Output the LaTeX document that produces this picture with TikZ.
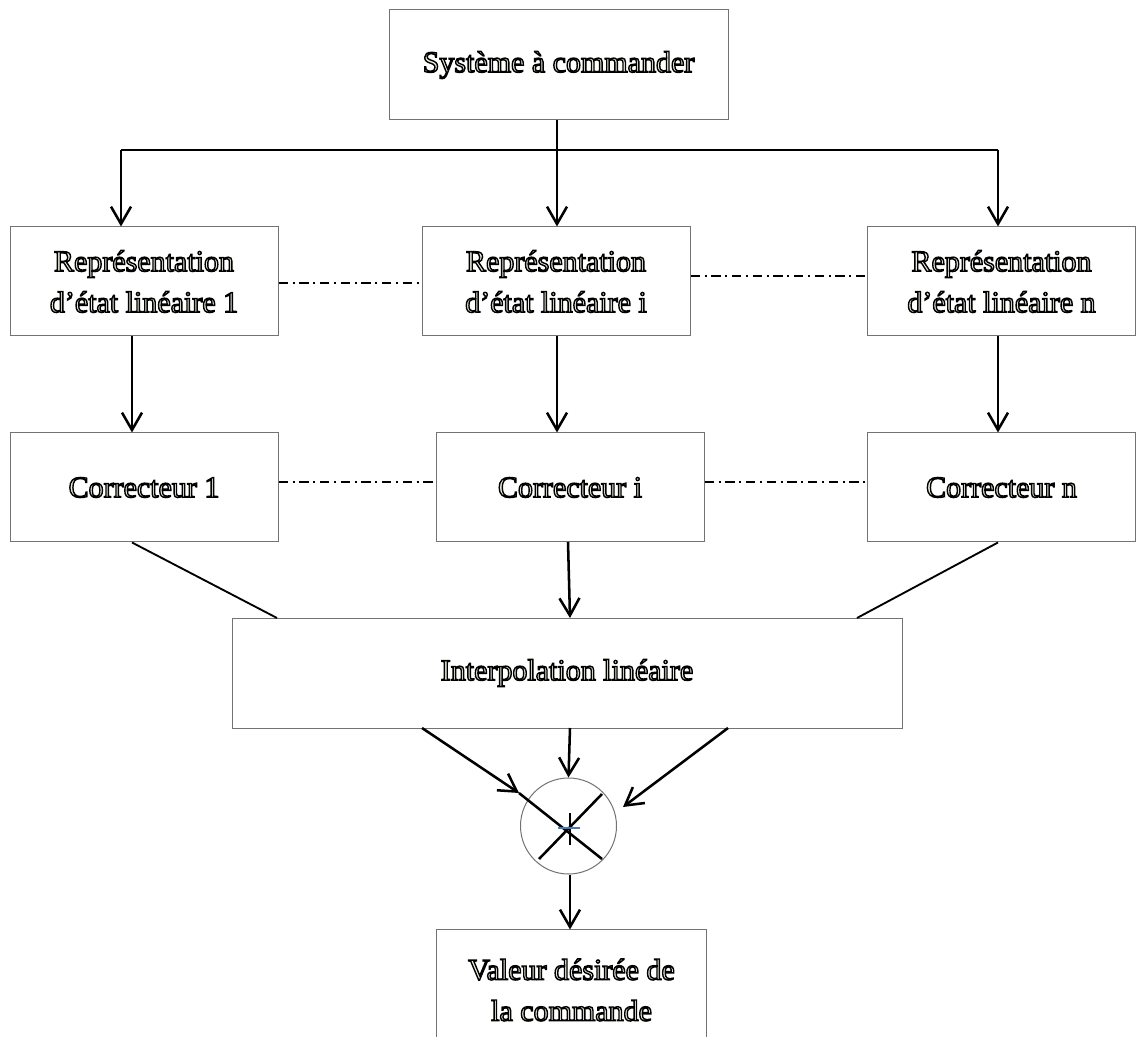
\documentclass[tikz,border=0pt]{standalone}
\usepackage{fontspec}
\setmainfont{Liberation Serif}
\usetikzlibrary{arrows.meta}
% hollow lettering: cream fill with a black outline
\newcommand\hollowtext{\special{pdf:literal direct 0.94 0.93 0.86 rg 0 0 0 RG 1.05 w 2 Tr}}
\newcommand\pxu{0.75pt}
\begin{document}
\begin{tikzpicture}[x=0.75pt,y=-0.75pt,
  box/.style={draw=black!55, line width=0.75pt, inner sep=0pt, align=center,
    font=\fontsize{22.5}{30.75}\selectfont\hollowtext},
  smallbox/.style={box, minimum width=268*\pxu, minimum height=109*\pxu},
  link/.style={line width=1.9pt},
  thin/.style={line width=1.4pt},
  arr/.style={link, -{Straight Barb[length=13pt,width=15pt]}},
  dd/.style={line width=1.05pt, dash pattern=on 7pt off 3.5pt on 1.5pt off 3.5pt},
  ]
\useasboundingbox (0,0) rectangle (1136,1037);

% blocks
\node[box, minimum width=339*\pxu, minimum height=110*\pxu] (sys) at (558.5,65) {Système à commander};

\node[smallbox] (r1) at (144,281.5) {Représentation\\d’état linéaire 1};
\node[smallbox] (ri) at (556,281.5) {Représentation\\d’état linéaire i};
\node[smallbox] (rn) at (1001.5,281.5) {Représentation\\d’état linéaire n};

\node[smallbox] (c1) at (144,487.5) {Correcteur 1};
\node[smallbox] (ci) at (570,487.5) {Correcteur i};
\node[smallbox] (cn) at (1001.5,487.5) {Correcteur n};

\node[box, minimum width=670*\pxu, minimum height=110*\pxu] (interp) at (567,673) {Interpolation linéaire};

\node[circle, draw=black!55, line width=0.75pt, minimum size=96*\pxu, inner sep=0pt] (sum) at (568.5,826) {};

\node[box, draw=none, minimum width=269*\pxu, minimum height=120*\pxu] (val) at (571.5,990) {Valeur désirée de\\la commande};
\draw[draw=black!55, line width=0.75pt] (val.south west) -- (val.north west) -- (val.north east) -- (val.south east);

% distribution bus from the plant
\coordinate (bus) at (557,150);
\coordinate (busL) at (121,150);
\coordinate (busR) at (998,150);
\draw[link] (sys.south -| bus) -- (bus);
\draw[link] (busL) -- (busR);
\draw[arr] (busL) -- (busL |- r1.north);
\draw[arr] (bus) -- (bus |- ri.north);
\draw[arr] (busR) -- (busR |- rn.north);

% state representations to controllers
\coordinate (xL) at (132,0);
\coordinate (xM) at (557,0);
\coordinate (xR) at (998,0);
\draw[arr] (r1.south -| xL) -- (c1.north -| xL);
\draw[arr] (ri.south -| xM) -- (ci.north -| xM);
\draw[arr] (rn.south -| xR) -- (cn.north -| xR);

% dash-dot links between parallel blocks
\draw[dd] ([yshift=-1.1pt]r1.east) -- ([yshift=-1.1pt]ri.west);
\draw[dd] ([yshift=4pt]ri.east) -- ([yshift=4pt]rn.west);
\draw[dd] ([yshift=4pt]c1.east) -- ([yshift=4pt]ci.west);
\draw[dd] ([yshift=4pt]ci.east) -- ([yshift=4pt]cn.west);

% controllers to interpolation
\coordinate (iL) at (277,618);
\coordinate (iM) at (570,618);
\coordinate (iR) at (857,618);
\draw[thin] (c1.south -| xL) -- (iL);
\draw[arr] (568,542) -- (iM);
\draw[thin] (cn.south -| xR) -- (iR);

% interpolation to the multiplier
\coordinate (oL) at (422,728);
\coordinate (oM) at (570,728);
\coordinate (oR) at (728,728);
\coordinate (xa) at (519,793);
\coordinate (xb) at (602,859);
\coordinate (xc) at (602,794);
\coordinate (xd) at (539,859);
\draw[arr] (oL) -- (xa);
\draw[arr] (oM) -- (sum.north);
\draw[arr] (oR) -- (623,807);

% multiplier sign
\draw[link] (xa) -- (xb);
\draw[link] (xc) -- (xd);
\draw[line width=1.9pt] (570,813) -- (570,845);
\draw[line width=1.9pt, draw={rgb,255:red,70;green,120;blue,190}] (558,828) -- (580,828);

% output
\draw[arr] (sum.south -| oM) -- (val.north -| oM);
\end{tikzpicture}
\end{document}
